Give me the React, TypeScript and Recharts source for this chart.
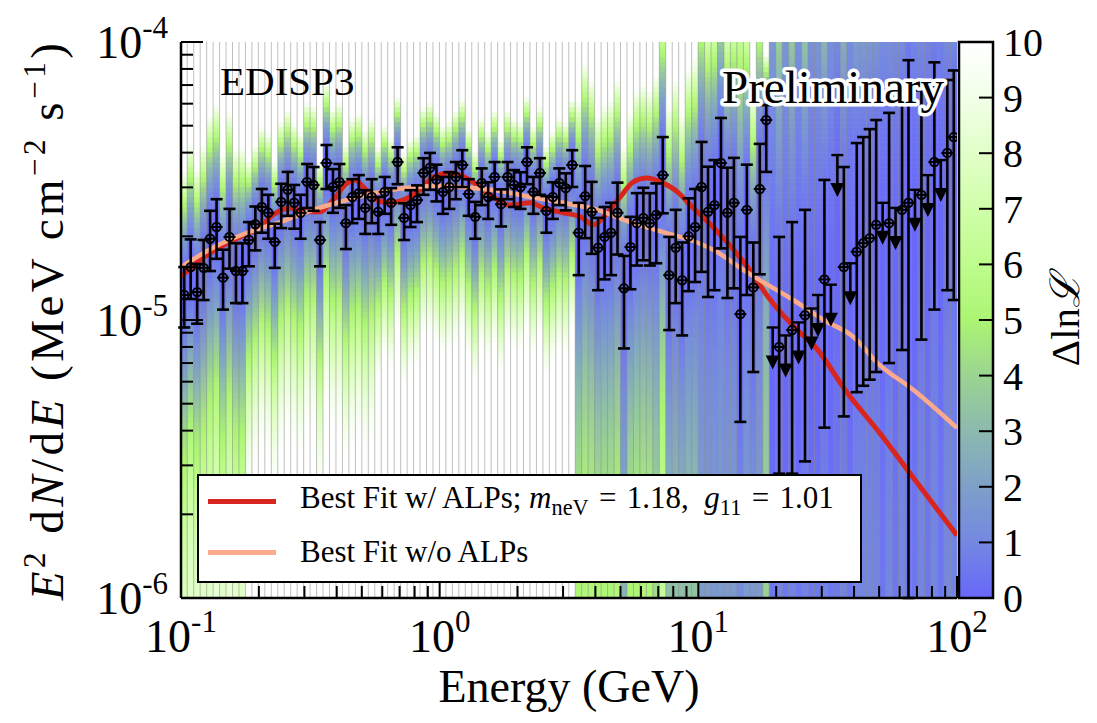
import React from "react";
import {
  Bar,
  ComposedChart,
  ErrorBar,
  Label,
  Legend,
  Line,
  Scatter,
  XAxis,
  YAxis,
} from "recharts";

const FONT = '"Liberation Serif", "Times New Roman", serif';
const RED = "#d8261f";
const SALMON = "#fbab8c";

// fluxes are in units of 1e-5 MeV cm^-2 s^-1
const Y_MIN = 0.1;
const Y_MAX = 10;

const X_TICKS = [
  0.1, 0.2, 0.3, 0.4, 0.5, 0.6, 0.7, 0.8, 0.9, 1, 2, 3, 4, 5, 6, 7, 8, 9, 10,
  20, 30, 40, 50, 60, 70, 80, 90, 100,
];
const Y_TICKS = [
  0.1, 0.2, 0.3, 0.4, 0.5, 0.6, 0.7, 0.8, 0.9, 1, 2, 3, 4, 5, 6, 7, 8, 9, 10,
];
const CBAR_TICKS = [0, 1, 2, 3, 4, 5, 6, 7, 8, 9, 10];

// 40 log-spaced energy bins per decade, 0.1 - 100 GeV
const BIN_CENTERS = Array.from({ length: 120 }, (_, i) => 10 ** (-1 + (i + 0.5) / 40));
const BIN_PX = 776 / 120; // drawn column width

// best-fit flux per bin (for upper-limit bins: peak of the likelihood profile)
const FLUX = [
  1.23, 1.55, 1.26, 1.54, 1.96, 2.16, 1.42, 1.99, 1.5, 1.5,
  1.94, 2.21, 2.55, 2.43, 1.91, 2.66, 2.94, 2.64, 2.43, 3.14,
  3.06, 1.94, 3.67, 3.01, 3.14, 2.23, 2.77, 2.86, 2.53, 2.77,
  2.45, 2.89, 2.64, 3.7, 2.33, 2.59, 2.7, 3.38, 3.53, 3.2,
  2.89, 3.01, 3.27, 3.61, 2.84, 2.35, 3.11, 2.77, 3.27, 2.61,
  3.27, 3.06, 3.01, 3.7, 2.89, 3.38, 2.47, 2.77, 3.11, 2.98,
  3.61, 2.06, 2.79, 2.45, 1.82, 1.99, 2.06, 2.43, 1.3, 1.83,
  2.23, 2.33, 2.23, 2.39, 3.32, 1.45, 1.82, 1.39, 2.0, 2.16,
  3.01, 2.45, 2.59, 3.67, 2.43, 2.64, 1.05, 2.49, 1.31, 2.96,
  5.24, 0.47, 0.8, 0.44, 0.92, 0.49, 1.04, 0.55, 0.6, 1.4,
  0.67, 1.9, 1.55, 0.8, 1.76, 1.89, 1.97, 2.2, 1.3, 2.23,
  1.2, 2.49, 2.64, 1.4, 2.82, 1.6, 3.7, 1.8, 3.99, 4.55,
];

// 1 sigma lower bound
const FLUX_LO = [
  0.94, 1.19, 0.97, 1.18, 1.5, 1.66, 1.09, 1.53, 1.15, 1.15,
  1.56, 1.78, 2.06, 1.96, 1.54, 2.14, 2.37, 2.13, 1.96, 2.53,
  2.47, 1.56, 2.96, 2.43, 2.53, 1.8, 2.23, 2.31, 2.04, 2.23,
  2.04, 2.41, 2.2, 3.08, 1.94, 2.16, 2.25, 2.82, 2.94, 2.67,
  2.41, 2.51, 2.72, 3.01, 2.37, 1.96, 2.59, 2.31, 2.72, 2.17,
  2.72, 2.55, 2.51, 3.08, 2.41, 2.82, 2.06, 2.31, 2.59, 2.48,
  3.01, 1.45, 1.97, 1.73, 1.28, 1.4, 1.45, 1.72, 0.79, 1.29,
  1.57, 1.64, 1.57, 1.6, 2.42, 0.92, 1.15, 0.88, 1.27, 1.37,
  1.49, 1.21, 1.28, 1.81, 1.2, 1.3, 0.43, 1.23, 0.65, 1.46,
  3.41, 0.1, 0.28, 0.1, 0.28, 0.1, 0.31, 0.1, 0.1, 0.41,
  0.1, 0.1, 0.45, 0.1, 0.55, 0.58, 0.61, 0.65, 0.1, 0.7,
  0.1, 0.78, 0.1, 0.1, 0.85, 0.1, 1.09, 0.1, 1.28, 1.18,
];

// 1 sigma upper bound
const FLUX_HI = [
  1.55, 1.95, 1.59, 1.94, 2.47, 2.72, 1.79, 2.51, 1.89, 1.89,
  2.25, 2.56, 2.96, 2.82, 2.22, 3.09, 3.41, 3.06, 2.82, 3.64,
  3.55, 2.25, 4.26, 3.49, 3.64, 2.59, 3.21, 3.32, 2.93, 3.21,
  2.77, 3.27, 2.98, 4.18, 2.63, 2.93, 3.05, 3.82, 3.99, 3.62,
  3.27, 3.4, 3.7, 4.08, 3.21, 2.66, 3.51, 3.13, 3.7, 2.95,
  3.7, 3.46, 3.4, 4.18, 3.27, 3.82, 2.79, 3.13, 3.51, 3.37,
  4.08, 2.64, 3.58, 3.14, 2.33, 2.55, 2.64, 3.12, 1.7, 2.35,
  2.86, 2.99, 2.86, 3.1, 4.55, 1.99, 2.49, 1.9, 2.74, 2.96,
  4.37, 3.56, 3.76, 5.33, 3.53, 3.83, 1.99, 3.62, 1.9, 4.3,
  5.93, 2.5, 1.99, 2.6, 2.25, 3.0, 2.49, 3.2, 3.0, 3.19,
  3.5, 6.0, 3.55, 4.0, 4.33, 4.55, 4.86, 5.24, 5.0, 5.56,
  5.0, 6.17, 8.6, 6.0, 6.7, 6.5, 8.45, 7.0, 7.3, 7.9,
];

// upper limits (bin index, value)
const UL_BIN = [91, 93, 95, 97, 98, 100, 101, 103, 108, 110, 113, 115, 117];
const UL_VALUE = [0.94, 0.88, 0.98, 1.1, 1.23, 1.34, 3.92, 1.6, 2.64, 2.53, 2.94, 3.32, 3.76];

// best fit with ALPs
const ALP_E = [
  0.1, 0.118, 0.142, 0.169, 0.202, 0.227, 0.264, 0.307, 0.345, 0.387, 0.439,
  0.471, 0.506, 0.573, 0.643, 0.722, 0.841, 0.944, 1.098, 1.31, 1.57, 1.87,
  2.24, 2.51, 3.0, 3.5, 3.93, 4.45, 4.99, 5.61, 6.35, 7.13, 8.3, 9.31, 11.4,
  15.5, 19.0, 24.8, 27.9, 37.7, 50.6, 67.9, 100,
];
const ALP_F = [
  1.43, 1.64, 1.83, 1.99, 2.16, 2.39, 2.53, 2.45, 2.45, 2.7, 3.11,
  3.19, 3.01, 2.7, 2.64, 2.7, 2.94, 3.27, 3.38, 3.19, 2.82, 2.59,
  2.64, 2.53, 2.43, 2.35, 2.2, 2.43, 2.77, 3.14, 3.24, 3.14, 2.89, 2.59, 2.16,
  1.55, 1.18, 0.898, 0.813, 0.546, 0.389, 0.27, 0.168,
];

// best fit without ALPs
const NOALP_E = [
  0.1, 0.133, 0.18, 0.242, 0.324, 0.439, 0.589, 0.79, 1.0, 1.23, 1.67, 2.24,
  3.0, 4.07, 5.45, 7.32, 9.32, 11.4, 15.5, 18.5, 23.3, 30.5, 39.8, 49.3, 67.9, 100,
];
const NOALP_F = [
  1.55, 1.82, 2.06, 2.25, 2.49, 2.7, 2.89, 3.0, 3.04, 3.0, 2.92, 2.77,
  2.64, 2.49, 2.25, 2.07, 1.94, 1.79, 1.48, 1.34, 1.18, 1.0, 0.869, 0.7, 0.56, 0.409,
];

// Delta lnL colour scale, 0..10
const CMAP_RGB = [
  [104, 104, 250], [116, 136, 226], [126, 160, 200], [140, 185, 175],
  [155, 212, 145], [172, 245, 115], [190, 252, 140], [208, 254, 170],
  [225, 255, 200], [242, 255, 232], [255, 255, 255],
];

const ulAt = new Map(UL_BIN.map((b, i) => [b, UL_VALUE[i]]));
const bins = BIN_CENTERS.map((e, i) => ({
  e,
  band: [Y_MIN, Y_MAX],
  flux: FLUX[i],
  lo: FLUX_LO[i],
  hi: FLUX_HI[i],
}));
const points = bins
  .filter((_, i) => !ulAt.has(i))
  .map((b) => ({ e: b.e, flux: b.flux, err: [b.flux - b.lo, b.hi - b.flux] }));
const limits = UL_BIN.map((b, i) => ({ e: BIN_CENTERS[b], ul: UL_VALUE[i] }));
const alpCurve = ALP_E.map((e, i) => ({ e, f: ALP_F[i] }));
const noAlpCurve = NOALP_E.map((e, i) => ({ e, f: NOALP_F[i] }));

function cmap(d: number) {
  const v = Math.max(0, Math.min(10, d));
  const i = Math.min(9, Math.floor(v));
  const f = v - i;
  const a = CMAP_RGB[i];
  const b = CMAP_RGB[i + 1];
  return `rgb(${a.map((c, k) => Math.round(c + (b[k] - c) * f)).join(",")})`;
}

// rough likelihood profile: log-normal above the best fit, gaussian below
function deltaLnL(f: number, flux: number, lo: number, hi: number) {
  if (f >= flux) {
    const z = Math.log10(f / flux) / Math.log10(hi / flux);
    return 0.5 * z * z;
  }
  const z = (flux - f) / (flux - lo);
  return 0.5 * z * z;
}

// one energy bin: vertical strip coloured by Delta lnL along the flux axis
function Column(props: any) {
  const { x, y, width, height, index } = props;
  if (!Number.isFinite(y) || !Number.isFinite(height) || height <= 0) return null;
  const flux = FLUX[index];
  const lo = FLUX_LO[index];
  const hi = FLUX_HI[index];
  const n = 111;
  const top = Math.log10(Y_MAX);
  const bottom = Math.log10(Y_MIN);
  const left = x + (width || 0) / 2 - BIN_PX / 2;
  const segH = height / n;
  const segs = [];
  for (let k = 0; k < n; k++) {
    const t = (k + 0.5) / n;
    const f = 10 ** (top - t * (top - bottom));
    segs.push(
      <rect
        key={k}
        x={left}
        y={y + k * segH}
        width={BIN_PX + 0.5}
        height={segH + 0.6}
        fill={cmap(deltaLnL(f, flux, lo, hi))}
      />
    );
  }
  return (
    <g>
      {segs}
      <line x1={left} x2={left} y1={y} y2={y + height} stroke="#8c8c8c" strokeOpacity={0.55} strokeWidth={1} />
    </g>
  );
}

function Marker({ cx, cy }: any) {
  return (
    <g stroke="#000" fill="none" strokeWidth={2}>
      <circle cx={cx} cy={cy} r={4.2} />
      <line x1={cx - 6} x2={cx + 6} y1={cy} y2={cy} />
    </g>
  );
}

function UpperLimit({ cx, cy }: any) {
  return (
    <g>
      <line x1={cx - 6} x2={cx + 6} y1={cy} y2={cy} stroke="#000" strokeWidth={2.4} />
      <line x1={cx} x2={cx} y1={cy} y2={cy + 30} stroke="#000" strokeWidth={2.6} />
      <path d={`M${cx - 7},${cy + 28} L${cx + 7},${cy + 28} L${cx},${cy + 42} Z`} fill="#000" />
    </g>
  );
}

function isMajor(v: number) {
  const l = Math.log10(v);
  return Math.abs(l - Math.round(l)) < 1e-6;
}
const MAJOR_LEN = 22;
const MINOR_LEN = 12;

function BottomTick({ x, y, payload }: any) {
  const major = isMajor(payload.value);
  return (
    <g>
      <line x1={x} x2={x} y1={y} y2={y - (major ? MAJOR_LEN : MINOR_LEN)} stroke="#000" strokeWidth={2} />
      {major && (
        <text x={x} y={y + 54} textAnchor="middle" fontFamily={FONT} fontSize={46} fill="#000">
          10
          <tspan dy={-20} fontSize={31}>
            {Math.round(Math.log10(payload.value))}
          </tspan>
        </text>
      )}
    </g>
  );
}

function TopTick({ x, y, payload }: any) {
  const major = isMajor(payload.value);
  return <line x1={x} x2={x} y1={y} y2={y + (major ? MAJOR_LEN : MINOR_LEN)} stroke="#000" strokeWidth={2} />;
}

function LeftTick({ x, y, payload }: any) {
  const major = isMajor(payload.value);
  return (
    <g>
      <line x1={x} x2={x + (major ? MAJOR_LEN : MINOR_LEN)} y1={y} y2={y} stroke="#000" strokeWidth={2} />
      {major && (
        <text x={x - 13} y={y + 16} textAnchor="end" fontFamily={FONT} fontSize={46} fill="#000">
          10
          <tspan dy={-20} fontSize={31}>
            {Math.round(Math.log10(payload.value)) - 5}
          </tspan>
        </text>
      )}
    </g>
  );
}

function RightTick({ x, y, payload }: any) {
  const major = isMajor(payload.value);
  return <line x1={x} x2={x - (major ? MAJOR_LEN : MINOR_LEN)} y1={y} y2={y} stroke="#000" strokeWidth={2} />;
}

function CbarTick({ x, y, payload }: any) {
  return (
    <g>
      <line x1={x} x2={x - 14} y1={y} y2={y} stroke="#000" strokeWidth={2} />
      <text x={x + 10} y={y + 14} fontFamily={FONT} fontSize={40} fill="#000">
        {payload.value}
      </text>
    </g>
  );
}

function XTitle({ viewBox }: any) {
  return (
    <text x={viewBox.x + viewBox.width / 2} y={viewBox.y + 104} textAnchor="middle" fontFamily={FONT} fontSize={46} fill="#000">
      Energy (GeV)
    </text>
  );
}

function YTitle({ viewBox }: any) {
  // baseline of the rotated title sits just left of the tick labels
  const cx = viewBox.x - 18;
  const cy = viewBox.y + viewBox.height / 2;
  return (
    <text
      x={cx}
      y={cy}
      transform={`rotate(-90 ${cx} ${cy})`}
      textAnchor="middle"
      fontFamily={FONT}
      fontSize={47}
      letterSpacing={3.5}
      fill="#000"
    >
      <tspan fontStyle="italic">E</tspan>
      <tspan dy={-18} fontSize={31}>2</tspan>
      <tspan dy={18}> d</tspan>
      <tspan fontStyle="italic">N</tspan>
      <tspan>/d</tspan>
      <tspan fontStyle="italic">E</tspan>
      <tspan> (MeV cm</tspan>
      <tspan dy={-18} fontSize={31}>−2</tspan>
      <tspan dy={18}> s</tspan>
      <tspan dy={-18} fontSize={31}>−1</tspan>
      <tspan dy={18}>)</tspan>
    </text>
  );
}

function CbarTitle({ viewBox }: any) {
  const cx = viewBox.x + 72;
  const cy = viewBox.y + viewBox.height / 2;
  return (
    <text x={cx} y={cy} transform={`rotate(-90 ${cx} ${cy})`} textAnchor="middle" dominantBaseline="central" fontFamily={FONT} fontSize={41} fill="#000">
      Δln<tspan fontStyle="italic">ℒ</tspan>
    </text>
  );
}

const LEGEND_TEXT: Record<string, React.ReactNode> = {
  alp: (
    <>
      Best Fit w/ ALPs; <i>m</i>
      <sub style={{ fontSize: "0.72em" }}>neV</sub>
      {"\u2004=\u20041.18,\u2002"}
      <i>g</i>
      <sub style={{ fontSize: "0.72em" }}>11</sub>
      {"\u2004=\u20041.01"}
    </>
  ),
  noalp: <>Best Fit w/o ALPs</>,
};

function LegendBox({ payload }: any) {
  const rows = (payload || []).filter((p: any) => LEGEND_TEXT[p.value]);
  return (
    <div
      style={{
        width: 665,
        height: 109,
        boxSizing: "border-box",
        border: "2.5px solid #000",
        background: "#fff",
        fontFamily: FONT,
        fontSize: 31,
        color: "#000",
        position: "relative",
      }}
    >
      {rows.map((p: any, i: number) => (
        <div
          key={p.value}
          style={{ position: "absolute", left: 0, top: i === 0 ? 5 : 56, height: 40, display: "flex", alignItems: "center", whiteSpace: "nowrap" }}
        >
          <span style={{ display: "inline-block", width: 68, height: 5, background: p.color, marginLeft: 9, marginRight: 24 }} />
          <span>{LEGEND_TEXT[p.value]}</span>
        </div>
      ))}
    </div>
  );
}

const axisLine = { stroke: "#000", strokeWidth: 2.5 };

export default function App() {
  return (
    <div style={{ position: "relative", width: 1089, height: 715, fontFamily: FONT }}>
      <ComposedChart
        width={1089}
        height={715}
        data={bins}
        margin={{ top: 34, right: 140, bottom: 65, left: 73 }}
        barCategoryGap={0}
        barGap={0}
      >
        <XAxis
          dataKey="e"
          type="number"
          scale="log"
          domain={[0.1, 100]}
          allowDataOverflow
          ticks={X_TICKS}
          interval={0}
          tickLine={false}
          tickSize={0}
          tickMargin={0}
          axisLine={axisLine}
          height={60}
          tick={(p: any) => <BottomTick {...p} />}
        >
          <Label content={(p: any) => <XTitle {...p} />} />
        </XAxis>
        <XAxis
          xAxisId="bins"
          dataKey="e"
          type="number"
          scale="log"
          domain={[0.1, 100]}
          allowDataOverflow
          hide
        />
        <XAxis
          xAxisId="top"
          orientation="top"
          dataKey="e"
          type="number"
          scale="log"
          domain={[0.1, 100]}
          allowDataOverflow
          ticks={X_TICKS}
          interval={0}
          tickLine={false}
          tickSize={0}
          tickMargin={0}
          axisLine={axisLine}
          height={0}
          tick={(p: any) => <TopTick {...p} />}
        />
        <YAxis
          type="number"
          scale="log"
          domain={[Y_MIN, Y_MAX]}
          allowDataOverflow
          ticks={Y_TICKS}
          interval={0}
          tickLine={false}
          tickSize={0}
          tickMargin={0}
          axisLine={axisLine}
          width={100}
          tick={(p: any) => <LeftTick {...p} />}
        >
          <Label content={(p: any) => <YTitle {...p} />} />
        </YAxis>
        <YAxis
          yAxisId="right"
          orientation="right"
          type="number"
          scale="log"
          domain={[Y_MIN, Y_MAX]}
          allowDataOverflow
          ticks={Y_TICKS}
          interval={0}
          tickLine={false}
          tickSize={0}
          tickMargin={0}
          axisLine={axisLine}
          width={0}
          tick={(p: any) => <RightTick {...p} />}
        />
        <Bar
          xAxisId="bins"
          dataKey="band"
          legendType="none"
          isAnimationActive={false}
          shape={(p: any) => <Column {...p} />}
        />
        <Line
          data={alpCurve}
          dataKey="f"
          name="alp"
          type="monotone"
          stroke={RED}
          strokeWidth={5}
          dot={false}
          isAnimationActive={false}
        />
        <Line
          data={noAlpCurve}
          dataKey="f"
          name="noalp"
          type="monotone"
          stroke={SALMON}
          strokeWidth={4.5}
          dot={false}
          isAnimationActive={false}
        />
        <Scatter
          data={points}
          dataKey="flux"
          legendType="none"
          isAnimationActive={false}
          shape={(p: any) => <Marker {...p} />}
        >
          <ErrorBar dataKey="err" direction="y" width={6} strokeWidth={2.6} stroke="#000" />
        </Scatter>
        <Scatter
          data={limits}
          dataKey="ul"
          legendType="none"
          isAnimationActive={false}
          shape={(p: any) => <UpperLimit {...p} />}
        />
        <Legend
          layout="horizontal"
          verticalAlign="middle"
          align="center"
          wrapperStyle={{ left: 189, top: 466, width: 665, height: 109 }}
          content={(p: any) => <LegendBox {...p} />}
        />
      </ComposedChart>

      <div style={{ position: "absolute", left: 943, top: 0 }}>
        <ComposedChart
          width={146}
          height={715}
          data={[{ name: "cbar", range: [0, 10] }]}
          margin={{ top: 34, right: 44, bottom: 125, left: 8 }}
          barCategoryGap={0}
        >
          <defs>
            <linearGradient id="cbarGrad" x1="0" y1="1" x2="0" y2="0">
              {CMAP_RGB.map((c, i) => (
                <stop key={i} offset={i / 10} stopColor={`rgb(${c.join(",")})`} />
              ))}
            </linearGradient>
          </defs>
          <XAxis dataKey="name" type="category" hide />
          <YAxis
            orientation="right"
            type="number"
            domain={[0, 10]}
            ticks={CBAR_TICKS}
            interval={0}
            width={60}
            tickLine={false}
            tickSize={0}
            tickMargin={0}
            axisLine={false}
            tick={(p: any) => <CbarTick {...p} />}
          >
            <Label content={(p: any) => <CbarTitle {...p} />} />
          </YAxis>
          <Bar dataKey="range" fill="url(#cbarGrad)" stroke="#000" strokeWidth={2.5} legendType="none" isAnimationActive={false} />
        </ComposedChart>
      </div>

      <svg width={1089} height={715} style={{ position: "absolute", left: 0, top: 0, pointerEvents: "none" }}>
        <text x={212} y={87} fontFamily={FONT} fontSize={41} fill="#000">
          EDISP3
        </text>
        <text
          x={714}
          y={95}
          fontFamily={FONT}
          fontSize={47}
          fill="#000"
          stroke="#fff"
          strokeWidth={7}
          strokeLinejoin="round"
          paintOrder="stroke"
        >
          Preliminary
        </text>
      </svg>
    </div>
  );
}
